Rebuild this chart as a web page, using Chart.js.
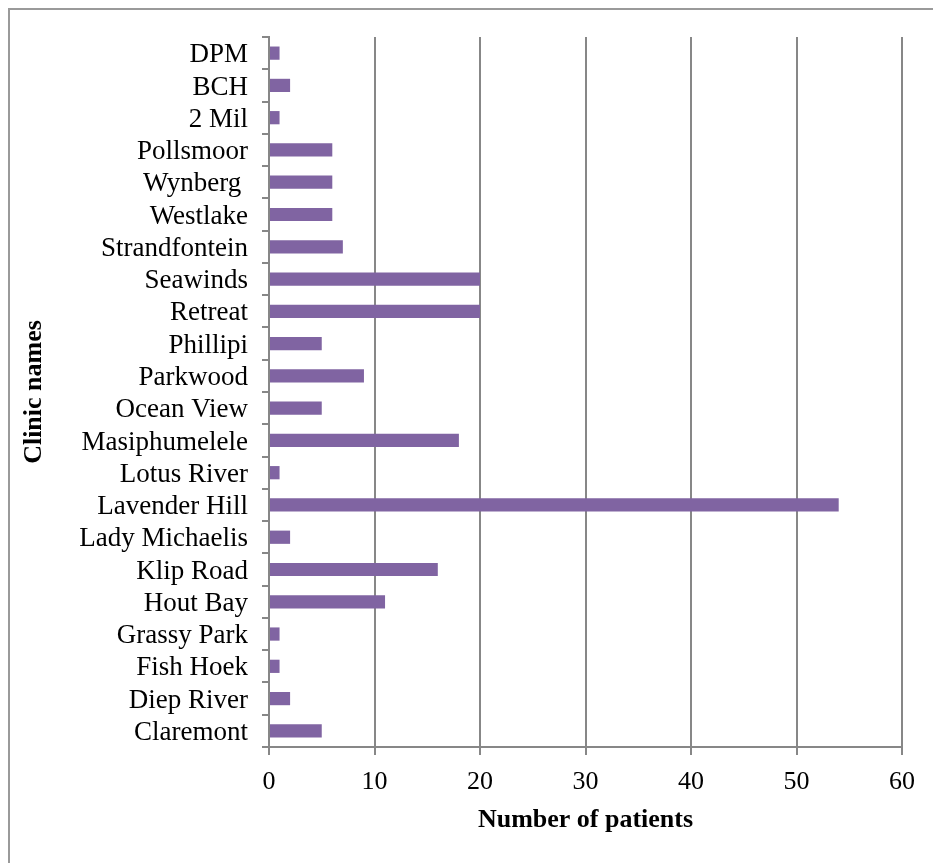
<!DOCTYPE html>
<html>
<head>
<meta charset="utf-8">
<script src="https://cdn.jsdelivr.net/npm/chart.js@4/dist/chart.umd.min.js"></script>
<style>
  html, body { margin: 0; padding: 0; background: #ffffff; }
  canvas { display: block; }
</style>
</head>
<body>
<canvas id="chart" width="933" height="863"></canvas>
<script>
// Clinics listed top to bottom as they appear on the chart
const clinics = [
  'DPM', 'BCH', '2 Mil', 'Pollsmoor', 'Wynberg ', 'Westlake', 'Strandfontein',
  'Seawinds', 'Retreat', 'Phillipi', 'Parkwood', 'Ocean View', 'Masiphumelele',
  'Lotus River', 'Lavender Hill', 'Lady Michaelis', 'Klip Road', 'Hout Bay',
  'Grassy Park', 'Fish Hoek', 'Diep River', 'Claremont'
];
const patients = [
  1, 2, 1, 6, 6, 6, 7,
  20, 20, 5, 9, 5, 18,
  1, 54, 2, 16, 11,
  1, 1, 2, 5
];
const xTicks = [0, 10, 20, 30, 40, 50, 60];

const GRID = '#878787';

// Thin frame around the figure (top and left edges)
const framePlugin = {
  id: 'frame',
  beforeDraw(chart) {
    const ctx = chart.ctx;
    ctx.save();
    ctx.strokeStyle = '#9a9a9a';
    ctx.lineWidth = 2;
    ctx.beginPath();
    ctx.moveTo(9, 870);
    ctx.lineTo(9, 9);
    ctx.lineTo(940, 9);
    ctx.stroke();
    ctx.restore();
  }
};

new Chart(document.getElementById('chart'), {
  type: 'bar',
  data: {
    labels: clinics,
    datasets: [{
      data: patients,
      backgroundColor: '#8064A2',
      borderWidth: 0,
      barPercentage: 0.41,
      categoryPercentage: 1.0
    }]
  },
  options: {
    indexAxis: 'y',
    responsive: false,
    animation: false,
    layout: { padding: { left: 19, top: 37, right: 31, bottom: 27 } },
    plugins: {
      legend: { display: false },
      tooltip: { enabled: false }
    },
    scales: {
      x: {
        min: 0,
        max: 60,
        afterBuildTicks(axis) { axis.ticks = xTicks.map(v => ({ value: v })); },
        afterFit(axis) { axis.height = 89; },
        grid: {
          color: GRID,
          lineWidth: 2,
          drawTicks: true,
          tickLength: 8,
          tickColor: GRID
        },
        border: { display: true, color: GRID, width: 2 },
        ticks: {
          color: '#000000',
          padding: 12,
          font: { family: 'Liberation Serif', size: 26 }
        },
        title: {
          display: true,
          text: 'Number of patients',
          color: '#000000',
          padding: 0,
          font: { family: 'Liberation Serif', size: 26, weight: 'bold' }
        }
      },
      y: {
        afterFit(axis) { axis.width = 250; },
        grid: {
          display: true,
          offset: true,
          drawOnChartArea: false,
          drawTicks: true,
          tickLength: 7,
          color: GRID,
          tickColor: GRID,
          lineWidth: 2
        },
        border: { display: true, color: GRID, width: 2 },
        ticks: {
          color: '#000000',
          padding: 14,
          labelOffset: 2,
          autoSkip: false,
          font: { family: 'Liberation Serif', size: 27 }
        },
        title: {
          display: true,
          text: 'Clinic names',
          color: '#000000',
          padding: 0,
          font: { family: 'Liberation Serif', size: 26, weight: 'bold' }
        }
      }
    }
  },
  plugins: [framePlugin]
});
</script>
</body>
</html>
